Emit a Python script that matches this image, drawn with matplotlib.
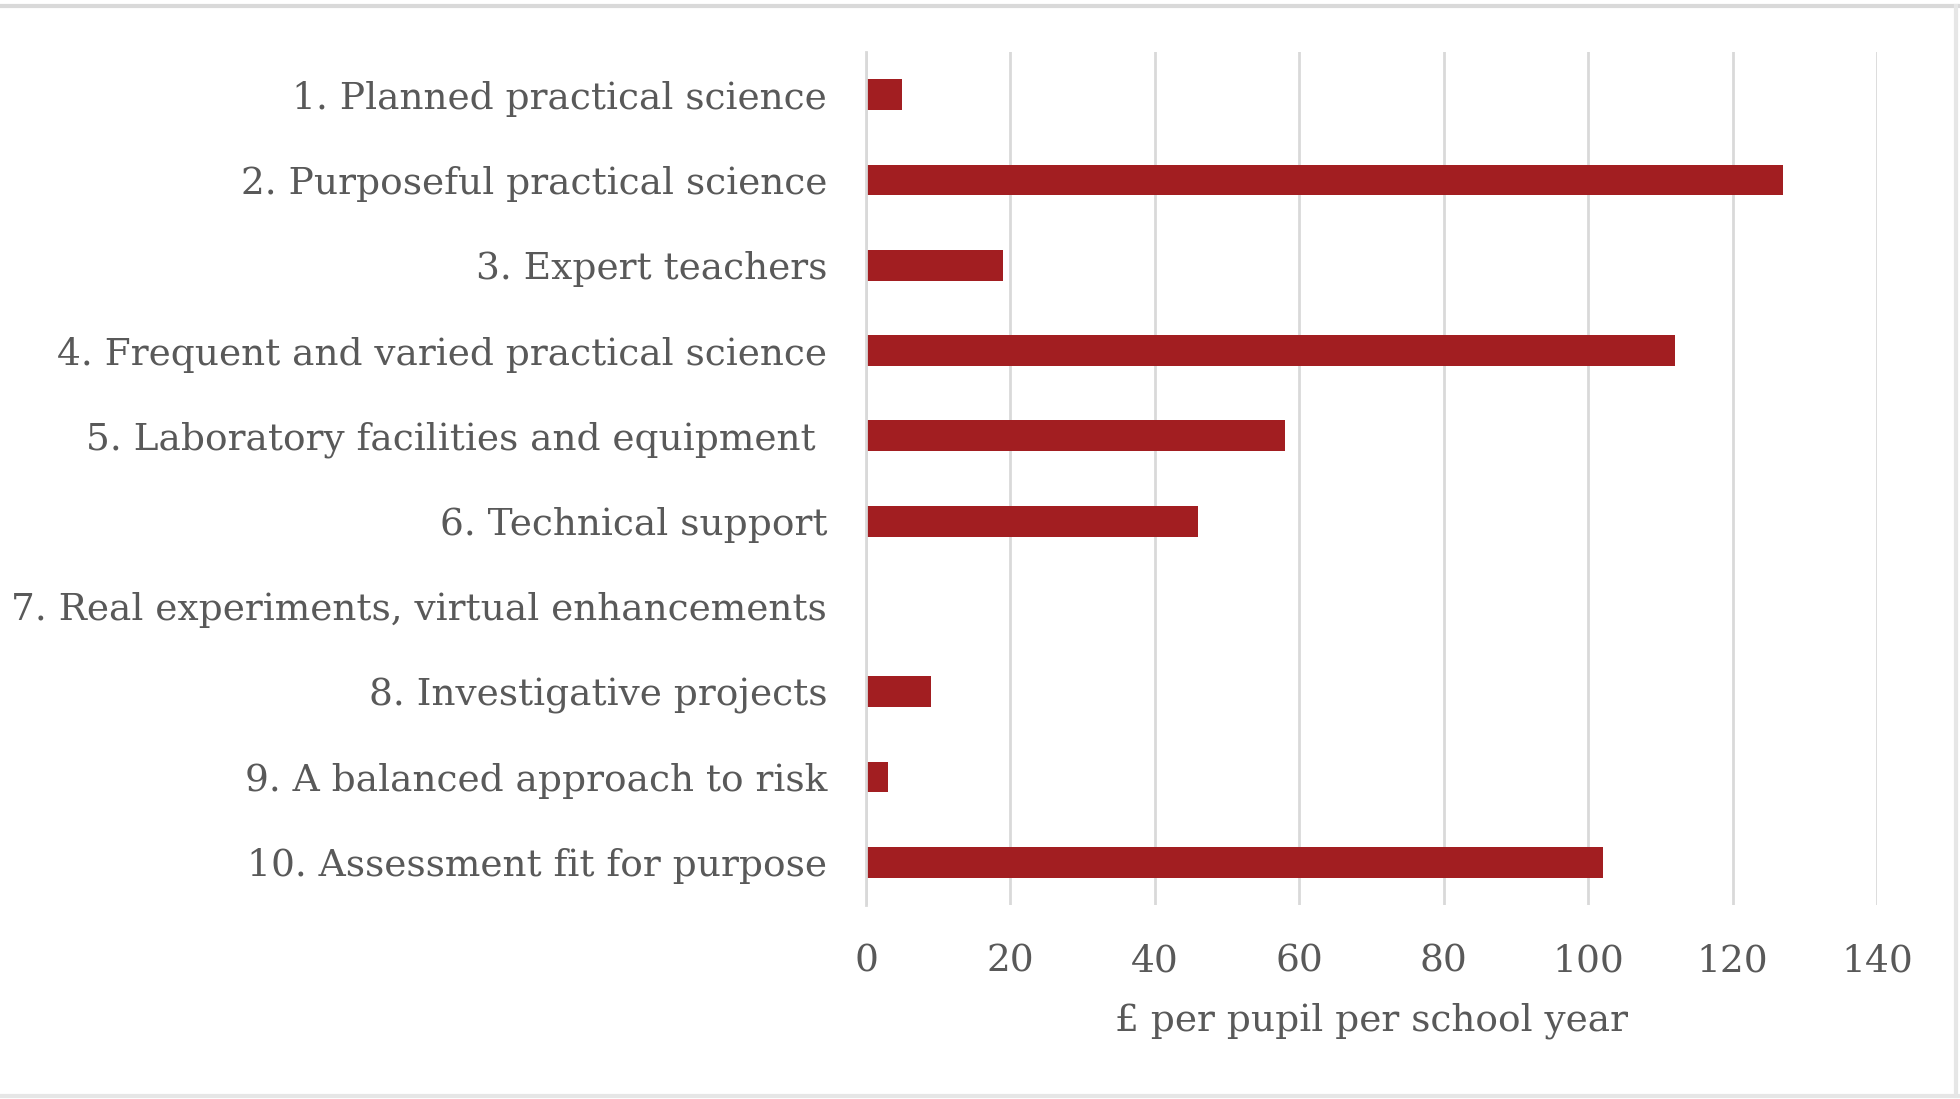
import matplotlib
matplotlib.use("Agg")
import matplotlib.pyplot as plt
from matplotlib.lines import Line2D

categories = [
    "1. Planned practical science",
    "2. Purposeful practical science",
    "3. Expert teachers",
    "4. Frequent and varied practical science",
    "5. Laboratory facilities and equipment ",
    "6. Technical support",
    "7. Real experiments, virtual enhancements",
    "8. Investigative projects",
    "9. A balanced approach to risk",
    "10. Assessment fit for purpose",
]
values = [5, 127, 19, 112, 58, 46, 0, 9, 3, 102]
xticks = [0, 20, 40, 60, 80, 100, 120, 140]
xlabel = "£ per pupil per school year"

BAR = "#A21E21"
GRID = "#D9D9D9"
TXT = "#595959"
FONT = ["DejaVu Serif"]
FS = 27

fig = plt.figure(figsize=(19.6, 10.99), dpi=100)
ax = fig.add_axes([866 / 1960, 1 - 905 / 1099, (1877 - 866) / 1960, (905 - 52) / 1099])

y = list(range(len(categories)))
ax.barh(y, values, height=0.36, color=BAR, zorder=3)
ax.set_ylim(len(categories) - 0.5, -0.5)
ax.set_xlim(0, 140)
ax.set_xticks(xticks)
ax.set_xticklabels([str(t) for t in xticks], family=FONT, fontsize=FS, color=TXT)
ax.set_yticks(y)
ax.set_yticklabels(categories, family=FONT, fontsize=FS, color=TXT)
ax.tick_params(axis="y", length=0, pad=28)
ax.tick_params(axis="x", length=0, pad=28)
ax.set_xlabel(xlabel, family=FONT, fontsize=FS, color=TXT, labelpad=16)

ax.grid(axis="x", color=GRID, linewidth=2, zorder=0)
ax.grid(axis="y", visible=False)
for s in ["top", "right", "bottom"]:
    ax.spines[s].set_visible(False)
ax.spines["left"].set_color(GRID)
ax.spines["left"].set_linewidth(2)
ax.spines["left"].set_zorder(4)

# outer frame lines of the screenshot
fig.add_artist(Line2D([0, 1], [1 - 6 / 1099] * 2, color=GRID, linewidth=3, transform=fig.transFigure))
fig.add_artist(Line2D([0, 1], [1 - 1096 / 1099] * 2, color="#E6E6E6", linewidth=3, transform=fig.transFigure))
fig.add_artist(Line2D([1 - 4 / 1960] * 2, [1 - 1096 / 1099, 1 - 6 / 1099], color="#E6E6E6", linewidth=3, transform=fig.transFigure))

fig.savefig("out.png", dpi=100, facecolor="white")
